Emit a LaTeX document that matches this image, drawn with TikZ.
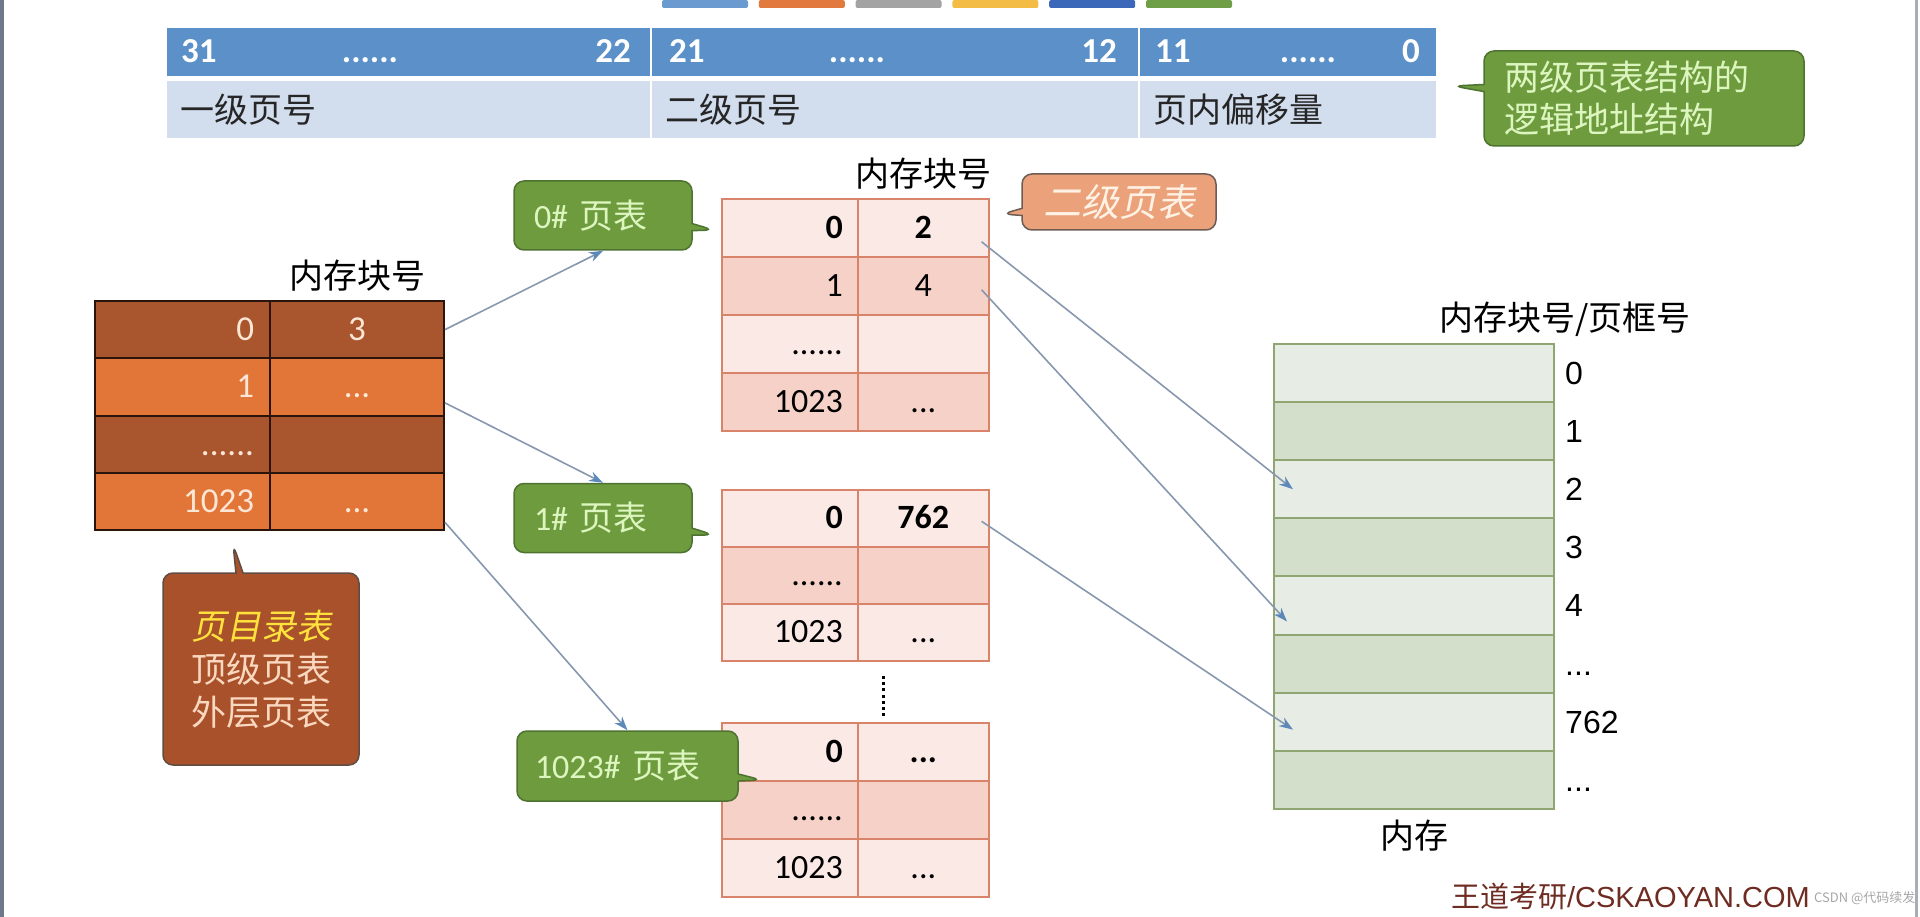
\documentclass[tikz,border=0pt]{standalone}
\usepackage{fontspec}
\usepackage{tikz}
\setmainfont{Carlito}
\newfontfamily\cjk{Noto Sans CJK SC}
\newfontfamily\cjkslant[FakeSlant=0.2]{Noto Sans CJK SC}
\newfontfamily\arialfont{Liberation Sans}
\usetikzlibrary{shapes.callouts,arrows.meta}

\definecolor{barblue}{HTML}{6A9AD0}
\definecolor{barorange}{HTML}{E27A40}
\definecolor{bargray}{HTML}{A3A3A3}
\definecolor{baryellow}{HTML}{F2BC45}
\definecolor{bardarkblue}{HTML}{3B68B8}
\definecolor{bargreen}{HTML}{6E9E45}
\definecolor{bitblue}{HTML}{5B90C9}
\definecolor{fieldblue}{HTML}{D2DDEE}
\definecolor{cgreen}{HTML}{6D9B3E}
\definecolor{cgreenline}{HTML}{4E7331}
\definecolor{cgreentext}{HTML}{DDF6BF}
\definecolor{dirdark}{HTML}{A9552E}
\definecolor{dirlight}{HTML}{E27638}
\definecolor{dirline}{HTML}{2B140C}
\definecolor{dirtext}{HTML}{FCE6D6}
\definecolor{pdcallout}{HTML}{A8512B}
\definecolor{pdline}{HTML}{5F4D45}
\definecolor{pdyellow}{HTML}{FFE33C}
\definecolor{pdtext}{HTML}{FAD8C0}
\definecolor{ptlight}{HTML}{FBE9E5}
\definecolor{ptdark}{HTML}{F6D1C8}
\definecolor{ptline}{HTML}{D9836B}
\definecolor{orcallout}{HTML}{EBA27B}
\definecolor{orline}{HTML}{6B5D55}
\definecolor{ortext}{HTML}{FFF2E4}
\definecolor{memlight}{HTML}{E7EDE4}
\definecolor{memdark}{HTML}{D4DFCB}
\definecolor{memline}{HTML}{8FA672}
\definecolor{arrowline}{HTML}{8798AE}
\definecolor{arrowhead}{HTML}{5C89B9}
\definecolor{wmred}{HTML}{6F2C23}
\definecolor{edgegray}{HTML}{6D7889}

\newcommand\threedot{...}
\newcommand\sixdot{......}

\tikzset{
	bitcell/.style={anchor=north west, fill=bitblue, draw=white, line width=1.5pt, minimum height=49pt, inner sep=0pt},
	bitnum/.style={inner sep=0pt, text=white, text height=22pt, text depth=0pt, font=\fontsize{35}{40}\selectfont\bfseries},
	fieldcell/.style={anchor=north west, fill=fieldblue, draw=white, line width=1.5pt, minimum height=58pt, inner xsep=15pt, inner ysep=0pt, align=left, text=black!85, font=\cjk\fontsize{34}{40}\selectfont},
	dircell/.style={anchor=north west, draw=dirline, line width=2pt, minimum height=57.25pt, inner ysep=0pt, text height=22pt, text depth=0pt, text=dirtext, font=\fontsize{35}{40}\selectfont},
	ptcell/.style={anchor=north west, draw=ptline, line width=1.6pt, minimum height=58pt, inner ysep=0pt, text height=21pt, text depth=0pt, text=black, font=\fontsize{34}{40}\selectfont},
	memcell/.style={anchor=north west, draw=memline, line width=2pt, minimum width=280pt, minimum height=58.1pt, inner sep=0pt},
	memnum/.style={anchor=west, inner sep=0pt, text height=23pt, text depth=0pt, font=\arialfont\fontsize{32}{38}\selectfont},
	zhlabel/.style={inner sep=0pt, font=\cjk\fontsize{34}{40}\selectfont},
	callbox/.style={rectangle callout, rounded corners=10pt, line width=1.5pt, inner ysep=0pt},
	greenbox/.style={callbox, fill=cgreen, draw=cgreenline, text=cgreentext, font=\fontsize{34}{40}\selectfont, align=left},
	link/.style={draw=arrowline, line width=1.6pt, -{Stealth[length=14pt,width=10pt,color=arrowhead]}}
}

\begin{document}
\begin{tikzpicture}[x=1pt,y=-1pt]
	\useasboundingbox (0,0) rectangle (1920,917);
	
	% Draw the screen edges
	\fill[edgegray] (0,0) rectangle (4,917);
	\fill[edgegray!60] (1915,0) rectangle (1918,917);
	
	% Draw colour bars at the top
	\foreach \c [count=\i from 0] in {barblue,barorange,bargray,baryellow,bardarkblue,bargreen}
	\fill[\c, rounded corners=2pt] (662+96.8*\i,0) rectangle ++(86,8);
	
	% Draw logical address fields
	\node[bitcell, minimum width=485pt] (bit-1) at (165,27) {};
	\node[bitcell, minimum width=488pt] (bit-2) at (650,27) {};
	\node[bitcell, minimum width=298pt] (bit-3) at (1138,27) {};
	\node[bitnum, anchor=west] (b31) at (181,52) {31};
	\node[bitnum] (bdots-1) at (370,52) {\sixdot};
	\node[bitnum, anchor=east] (b22) at (631,52) {22};
	\node[bitnum, anchor=west] (b21) at (669,52) {21};
	\node[bitnum] (bdots-2) at (857,52) {\sixdot};
	\node[bitnum, anchor=east] (b12) at (1117,52) {12};
	\node[bitnum, anchor=west] (b11) at (1155,52) {11};
	\node[bitnum] (bdots-3) at (1308,52) {\sixdot};
	\node[bitnum, anchor=east] (b0) at (1420,52) {0};
	\node[fieldcell, text width=455pt] (fld-1) at (165,80) {一级页号};
	\node[fieldcell, text width=458pt] (fld-2) at (650,80) {二级页号};
	\node[fieldcell, text width=268pt] (fld-3) at (1138,80) {页内偏移量};
	
	% Draw page directory
	\foreach \n/\v/\c [count=\i from 0] in {0/3/dirdark, 1/\threedot/dirlight, \sixdot/{}/dirdark, 1023/\threedot/dirlight}
	{
		\node[dircell, fill=\c, text width=143pt, inner xsep=16pt, align=right] (dir-\i-a) at (94,300+57.25*\i) {\n};
		\node[dircell, fill=\c, text width=154pt, inner xsep=10pt, align=center] (dir-\i-b) at (269,300+57.25*\i) {\v};
	}
	\node[zhlabel, above=9pt] (dirhead) at (dir-0-b.north) {内存块号};
	
	% Draw page table 0
	\foreach \n/\v/\c [count=\i from 0] in {\textbf{0}/\textbf{2}/ptlight, 1/4/ptdark, \sixdot/{}/ptlight, 1023/\threedot/ptdark}
	{
		\node[ptcell, fill=\c, text width=106pt, inner xsep=15pt, align=right] (pa-\i-a) at (721,198+58*\i) {\n};
		\node[ptcell, fill=\c, text width=115pt, inner xsep=8pt, align=center] (pa-\i-b) at (857,198+58*\i) {\v};
	}
	\node[zhlabel, above=9pt] (pahead) at (pa-0-b.north) {内存块号};
	
	% Draw page table 1
	\foreach \n/\v/\c [count=\i from 0] in {\textbf{0}/\textbf{762}/ptlight, \sixdot/{}/ptdark, 1023/\threedot/ptlight}
	{
		\node[ptcell, fill=\c, minimum height=57pt, text width=106pt, inner xsep=15pt, align=right] (pb-\i-a) at (721,489+57*\i) {\n};
		\node[ptcell, fill=\c, minimum height=57pt, text width=115pt, inner xsep=8pt, align=center] (pb-\i-b) at (857,489+57*\i) {\v};
	}
	
	% Draw page table 1023
	\foreach \n/\v/\c [count=\i from 0] in {\textbf{0}/\textbf{\threedot}/ptlight, \sixdot/{}/ptdark, 1023/\threedot/ptlight}
	{
		\node[ptcell, fill=\c, text width=106pt, inner xsep=15pt, align=right] (pc-\i-a) at (721,722+58*\i) {\n};
		\node[ptcell, fill=\c, text width=115pt, inner xsep=8pt, align=center] (pc-\i-b) at (857,722+58*\i) {\v};
	}
	
	% Draw vertical dots between the tables
	\draw[line width=3pt, dash pattern=on 3pt off 3.2pt] (883,676) -- (883,716);
	
	% Draw main memory
	\foreach \lab [count=\i from 0] in {0,1,2,3,4,\threedot,762,\threedot}
	{
		\ifodd\i \def\mc{memdark}\else \def\mc{memlight}\fi
		\node[memcell, fill=\mc] (mem-\i) at (1273,343+58.1*\i) {};
		\node[memnum] (mlab-\i) at ([xshift=10pt]mem-\i.east) {\lab};
	}
	\node[zhlabel, anchor=south west] (memhead) at (1439,337) {内存块号/页框号};
	\node[zhlabel, below=10pt] (memname) at (mem-7.south) {内存};
	
	% Draw callouts
	\node[greenbox, font=\cjk\fontsize{35}{42}\selectfont, text width=280pt, inner xsep=20pt, minimum height=95pt, callout absolute pointer={(1453,86)}] (cbtop) at (1644,98.5) {两级页表结构的\\逻辑地址结构};
	\node[greenbox, text width=138pt, inner xsep=20pt, minimum height=69pt, callout absolute pointer={(714,230)}] (cb0) at (603,215.5) {0\# {\cjk 页表}};
	\node[greenbox, text width=138pt, inner xsep=20pt, minimum height=69pt, callout absolute pointer={(714,535)}] (cb1) at (603,518) {1\# {\cjk 页表}};
	\node[greenbox, text width=185pt, inner xsep=18pt, minimum height=70pt, callout absolute pointer={(762,780)}] (cb3) at (627.5,766) {1023\# {\cjk 页表}};
	\node[callbox, fill=pdcallout, draw=pdline, text=pdtext, font=\cjk\fontsize{35}{43}\selectfont, align=center, minimum width=196pt, minimum height=192pt, callout absolute pointer={(233,544)}] (cbdir) at (261,669) {{\cjkslant\color{pdyellow}页目录表}\\顶级页表\\外层页表};
	\node[callbox, fill=orcallout, draw=orline, text=ortext, font=\cjkslant\fontsize{38}{40}\selectfont, minimum width=194pt, minimum height=56pt, callout absolute pointer={(1002,214)}] (cbsec) at (1119,202) {二级页表};
	
	% Draw arrows from directory to page tables
	\draw[link] (dir-0-b.east) -- (cb0.south);
	\draw[link] ([yshift=-16pt]dir-1-b.east) -- (cb1.north);
	\draw[link] ([yshift=-21pt]dir-3-b.east) -- (cb3.north);
	
	% Draw arrows from page tables to memory
	\draw[link] ([xshift=-8pt,yshift=-14pt]pa-0-b.east) -- ([xshift=20pt]mem-2.west);
	\draw[link] ([xshift=-8pt,yshift=-4pt]pa-1-b.east) -- ([xshift=14pt,yshift=-16pt]mem-4.west);
	\draw[link] ([xshift=-8pt,yshift=-3pt]pb-0-b.east) -- ([xshift=20pt,yshift=-8pt]mem-6.west);
	
	% Draw watermark
	\node[anchor=east, inner sep=0pt, text=wmred, font=\fontsize{29}{34}\selectfont] (wmark) at (1810,896) {{\cjk 王道考研}{\arialfont /CSKAOYAN.COM}};
	\node[anchor=west, inner sep=0pt, text=black!35, font=\cjk\fontsize{13}{16}\selectfont] (csdn) at (1814,898) {CSDN @代码续发};
\end{tikzpicture}
\end{document}
